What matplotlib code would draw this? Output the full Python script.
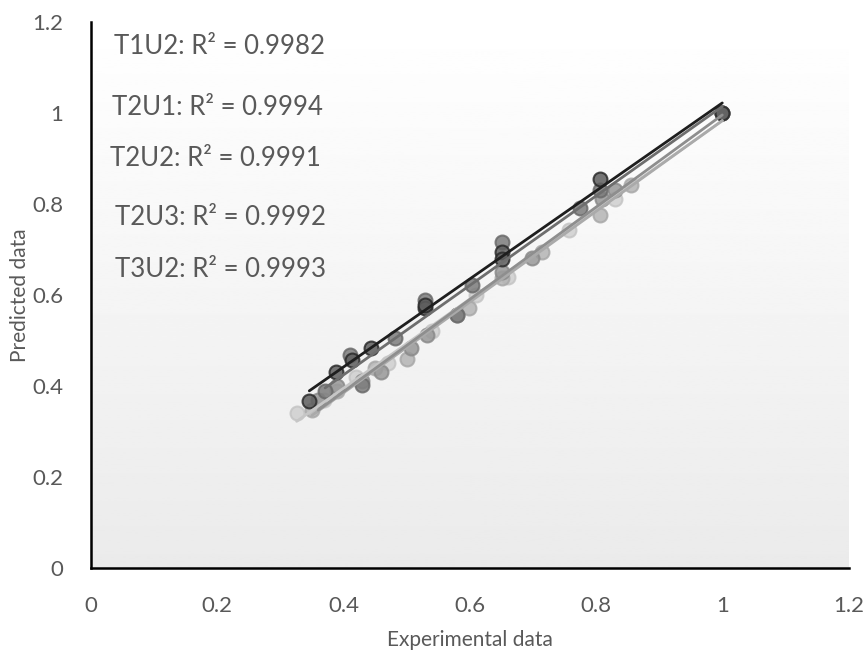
import numpy as np
import matplotlib
matplotlib.use("Agg")
import matplotlib.pyplot as plt

plt.rcParams['font.family'] = ['Lato', 'DejaVu Sans']

series_names = ["T1U2", "T2U1", "T2U2", "T2U3", "T3U2"]
r2_values = ["0.9982", "0.9994", "0.9991", "0.9992", "0.9993"]

t1u2_x = [0.346, 0.389, 0.413, 0.444, 0.530, 0.530, 0.651, 0.651, 0.806, 1.0]
t1u2_y = [0.368, 0.431, 0.457, 0.483, 0.571, 0.578, 0.695, 0.680, 0.856, 1.0]

t2u1_x = [0.371, 0.410, 0.430, 0.481, 0.530, 0.580, 0.604, 0.651, 0.774, 0.806, 1.0]
t2u1_y = [0.388, 0.468, 0.402, 0.505, 0.589, 0.556, 0.622, 0.716, 0.791, 0.830, 1.0]

t2u2_x = [0.360, 0.390, 0.430, 0.460, 0.507, 0.533, 0.580, 0.651, 0.698, 0.810, 0.830, 1.0]
t2u2_y = [0.370, 0.400, 0.410, 0.430, 0.483, 0.512, 0.556, 0.650, 0.681, 0.810, 0.830, 1.0]

t2u3_x = [0.350, 0.390, 0.450, 0.500, 0.599, 0.651, 0.714, 0.806, 0.855, 1.0]
t2u3_y = [0.347, 0.390, 0.440, 0.460, 0.571, 0.637, 0.695, 0.776, 0.842, 1.0]

t3u2_x = [0.326, 0.370, 0.420, 0.470, 0.540, 0.610, 0.660, 0.758, 0.830, 1.0]
t3u2_y = [0.340, 0.370, 0.420, 0.450, 0.520, 0.600, 0.640, 0.743, 0.810, 1.0]

xs = [t1u2_x, t2u1_x, t2u2_x, t2u3_x, t3u2_x]
ys = [t1u2_y, t2u1_y, t2u2_y, t2u3_y, t3u2_y]

fill_colors = ["#5e5e5e", "#7c7c7c", "#989898", "#b4b4b4", "#cfcfcf"]
edge_colors = ["#2a2a2a", "#6a6a6a", "#8a8a8a", "#a8a8a8", "#c4c4c4"]
line_colors = ["#1e1e1e", "#6e6e6e", "#8e8e8e", "#aaaaaa", "#c6c6c6"]

fig = plt.figure(figsize=(8.65, 6.61), dpi=100)
ax = fig.add_axes([0.105, 0.1407, 0.876, 0.826])

grad = np.linspace(0.92, 1.0, 256).reshape(-1, 1)
ax.imshow(grad, extent=[0, 1, 0, 1], transform=ax.transAxes, aspect='auto',
          cmap='gray', vmin=0, vmax=1, origin='lower', zorder=0)

for i in reversed(range(5)):
    x = np.array(xs[i]); y = np.array(ys[i])
    ax.scatter(x, y, s=100, facecolor=fill_colors[i], edgecolor=edge_colors[i],
               linewidth=1.5, alpha=0.85, zorder=2 + (4 - i) * 0.1)
for i in reversed(range(5)):
    x = np.array(xs[i]); y = np.array(ys[i])
    m, b = np.polyfit(x, y, 1)
    xx = np.array([x.min(), x.max()])
    ax.plot(xx, m * xx + b, color=line_colors[i], lw=2, zorder=3 + (4 - i) * 0.1,
            solid_capstyle='round')

ax.set_xlim(0, 1.2)
ax.set_ylim(0, 1.2)
ax.set_xticks(np.arange(0, 1.21, 0.2))
ax.set_yticks(np.arange(0, 1.21, 0.2))
ax.set_xticklabels(["0", "0.2", "0.4", "0.6", "0.8", "1", "1.2"])
ax.set_yticklabels(["0", "0.2", "0.4", "0.6", "0.8", "1", "1.2"])
ax.tick_params(length=0, labelsize=16, labelcolor="#595959")
ax.tick_params(axis='y', pad=20)
ax.tick_params(axis='x', pad=20)
for s in ["top", "right"]:
    ax.spines[s].set_visible(False)
for s in ["left", "bottom"]:
    ax.spines[s].set_color("black")
    ax.spines[s].set_linewidth(1.8)

ax.set_xlabel("Experimental data", fontsize=15, color="#595959", va='center')
ax.xaxis.set_label_coords(0.5, -0.132)
ax.set_ylabel("Predicted data", fontsize=15, color="#595959", va='center')
ax.yaxis.set_label_coords(-0.093, 0.5)

text_pos = [(0.204, 1.147), (0.200, 1.013), (0.197, 0.901), (0.206, 0.771), (0.206, 0.655)]
for name, r2, (tx, ty) in zip(series_names, r2_values, text_pos):
    ax.text(tx, ty, f"{name}: R² = {r2}", fontsize=18.5, color="#595959",
            ha='center', va='center', zorder=5)

fig.savefig("out.png", dpi=100)
